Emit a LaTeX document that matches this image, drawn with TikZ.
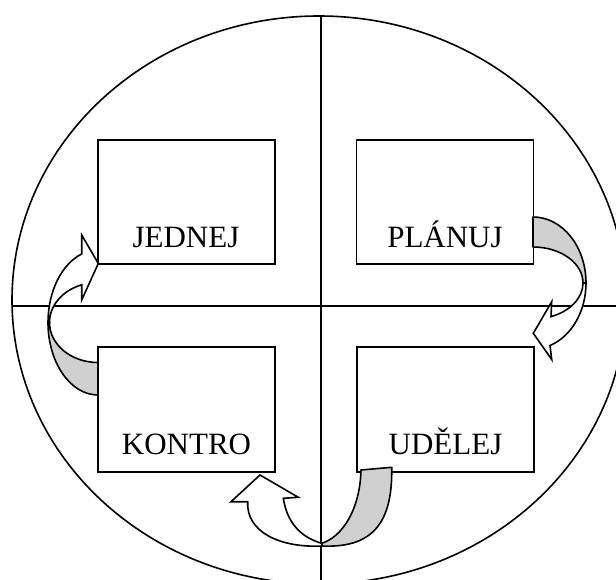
\documentclass[tikz,border=0pt]{standalone}
\usepackage{fontspec}
\setmainfont{Liberation Serif}
\definecolor{bandgray}{RGB}{208,208,208}
\begin{document}
\begin{tikzpicture}[x=1pt,y=-1pt,
  line width=1.6pt,
  box/.style={draw, fill=white, rectangle, inner sep=0pt, minimum width=177pt, minimum height=124pt, line width=1.7pt},
  lbl/.style={anchor=base, inner sep=0pt, font=\fontsize{31}{36}\selectfont},
  band/.style={draw, fill=bandgray, line join=round, line width=1.6pt},
  body/.style={draw, fill=white, line join=miter, line width=1.6pt}]
\useasboundingbox (0,0) rectangle (616,580);
\clip (0,0) rectangle (616,580);
% outer ellipse and cross
\draw (319,300) ellipse [x radius=307pt, y radius=284pt];
\coordinate (hl) at (12,306);
\coordinate (hr) at (616,306);
\coordinate (vt) at (321,16);
\coordinate (vb) at (321,580);
\draw (hl) -- (hr);
\draw (vt) -- (vb);
% boxes
\node[box] (jednej) at (186.5,202) {};
\node[box] (planuj) at (445,202) {};
\node[box, minimum height=125pt] (kontro) at (186.5,409.5) {};
\node[box, minimum height=125pt] (udelej) at (445.5,409.5) {};
\node[lbl] (tj) at (186,248) {JEDNEJ};
\node[lbl] (tp) at (445,248) {PLÁNUJ};
\node[lbl] (tk) at (186.5,454) {KONTRO};
\node[lbl] (tu) at (445.5,454) {UDĚLEJ};
% right curved arrow (PLANUJ -> UDELEJ)
\filldraw[band] (533,217) .. controls (562.3,217) and (586,246.5) .. (586,283)
  -- (583,283) .. controls (583,263.1) and (560.6,247) .. (533,247) -- cycle;
\filldraw[body] (586,283) .. controls (586,311.3) and (571.5,336.5) .. (550,345.5)
  -- (551.7,359.5) -- (533.3,333.3) -- (551.7,301.7) -- (551,316.6)
  .. controls (570.3,311.2) and (583,297.9) .. (583,283) -- cycle;
% left curved arrow (KONTRO -> JEDNEJ)
\filldraw[band] (98,395) .. controls (70.4,395) and (48,362.5) .. (48,322.5)
  -- (49.5,322.5) .. controls (49.5,344.6) and (71.2,362.5) .. (98,362.5) -- cycle;
\filldraw[body] (48,322.5) .. controls (48,291.6) and (61.5,264.1) .. (81.7,254)
  -- (81.7,235) -- (98.3,263.5) -- (81.7,300) -- (81.7,284.8)
  .. controls (62.4,290.5) and (49.5,305.6) .. (49.5,322.5) -- cycle;
% bottom curved arrow (UDELEJ -> KONTRO)
\filldraw[band] (361,470) -- (391.7,467.3) .. controls (393,528) and (368,548) .. (322,546)
  -- (321.7,543.3) .. controls (342,537) and (360,510) .. (361,470) -- cycle;
\filldraw[body] (322,546) .. controls (280,548) and (246,532) .. (247.7,501.7)
  -- (231,501.7) -- (260,475) -- (298.3,497.3) -- (283.3,498.3)
  .. controls (287,522) and (300,537) .. (321.7,543.3) -- cycle;
\end{tikzpicture}
\end{document}
